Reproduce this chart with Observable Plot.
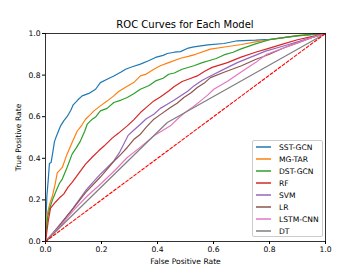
<!DOCTYPE html>
<html><head><meta charset="utf-8">
<script src="https://cdn.jsdelivr.net/npm/d3@7"></script>
<script src="https://cdn.jsdelivr.net/npm/@observablehq/plot@0.6"></script>
<style>
body{margin:0;background:#fff;font-family:"DejaVu Sans",sans-serif;}
#wrap{position:relative;width:361px;height:271px;}
#title{position:absolute;left:45px;width:280px;top:19px;text-align:center;font-size:10px;color:#000;}
#legend{position:absolute;left:252px;top:140px;width:69px;height:95px;border:1px solid #ccc;border-radius:2px;background:rgba(255,255,255,0.85);font-size:7.6px;color:#000;}
.row{position:absolute;left:3px;height:10px;display:flex;align-items:center;}
.sw{display:block;margin-right:8px;}
</style></head><body>
<div id="wrap"><div id="title">ROC Curves for Each Model</div><div id="chart"></div><div id="legend"></div></div>
<script>
const models = ["SST-GCN","MG-TAR","DST-GCN","RF","SVM","LR","LSTM-CNN","DT"];
const colors = ["#1f77b4","#ff7f0e","#2ca02c","#d62728","#9467bd","#8c564b","#e377c2","#7f7f7f"];
const xTicks = [0,0.2,0.4,0.6,0.8,1.0];
const yTicks = [0,0.2,0.4,0.6,0.8,1.0];

const sstFpr = [0,0.002,0.005,0.01,0.014,0.02,0.025,0.032,0.04,0.054,0.065,0.077,0.09,0.099,0.115,0.131,0.155,0.179,0.196,0.22,0.244,0.27,0.286,0.31,0.339,0.37,0.393,0.42,0.435,0.46,0.482,0.51,0.53,0.58,0.637,0.685,0.75,0.8,0.85,0.9,0.95,1];
const sstTpr = [0,0.12,0.22,0.3,0.375,0.38,0.42,0.48,0.51,0.556,0.58,0.6,0.63,0.657,0.68,0.70,0.712,0.732,0.764,0.78,0.796,0.815,0.828,0.84,0.853,0.87,0.885,0.895,0.904,0.91,0.913,0.93,0.936,0.945,0.952,0.965,0.968,0.972,0.98,0.988,0.995,1];
const mgFpr = [0,0.003,0.006,0.015,0.025,0.035,0.042,0.06,0.077,0.095,0.113,0.13,0.143,0.16,0.173,0.196,0.22,0.244,0.26,0.28,0.315,0.339,0.36,0.387,0.41,0.44,0.482,0.51,0.536,0.589,0.64,0.7,0.75,0.8,0.85,0.9,0.95,1];
const mgTpr = [0,0.06,0.13,0.18,0.22,0.28,0.33,0.356,0.42,0.476,0.53,0.56,0.588,0.61,0.628,0.652,0.675,0.70,0.72,0.737,0.764,0.796,0.805,0.828,0.845,0.86,0.881,0.89,0.90,0.925,0.935,0.947,0.96,0.97,0.98,0.99,0.996,1];
const dstFpr = [0,0.003,0.008,0.015,0.025,0.04,0.05,0.06,0.077,0.095,0.11,0.125,0.14,0.149,0.167,0.18,0.196,0.22,0.244,0.27,0.292,0.315,0.339,0.37,0.393,0.42,0.44,0.46,0.488,0.53,0.56,0.583,0.61,0.637,0.67,0.696,0.75,0.8,0.85,0.9,0.95,1];
const dstTpr = [0,0.06,0.12,0.16,0.2,0.25,0.28,0.30,0.356,0.42,0.45,0.484,0.53,0.564,0.588,0.60,0.628,0.64,0.668,0.68,0.692,0.71,0.732,0.75,0.772,0.785,0.804,0.81,0.828,0.845,0.86,0.869,0.88,0.897,0.91,0.925,0.95,0.97,0.98,0.99,0.996,1];
const rfFpr = [0,0.005,0.01,0.018,0.036,0.05,0.065,0.08,0.095,0.12,0.143,0.17,0.19,0.21,0.238,0.26,0.292,0.315,0.339,0.36,0.387,0.41,0.44,0.46,0.488,0.51,0.542,0.57,0.595,0.65,0.696,0.75,0.8,0.85,0.9,0.95,1];
const rfTpr = [0,0.05,0.1,0.16,0.19,0.21,0.228,0.26,0.284,0.33,0.372,0.41,0.436,0.46,0.497,0.52,0.556,0.585,0.62,0.645,0.676,0.695,0.724,0.745,0.769,0.78,0.796,0.82,0.837,0.86,0.885,0.91,0.93,0.95,0.97,0.985,1];
const svmFpr = [0,0.02,0.05,0.075,0.10,0.12,0.143,0.17,0.196,0.22,0.244,0.265,0.28,0.295,0.315,0.339,0.36,0.387,0.41,0.435,0.46,0.482,0.51,0.53,0.56,0.589,0.64,0.685,0.74,0.786,0.85,0.9,0.95,1];
const svmTpr = [0,0.03,0.08,0.12,0.163,0.2,0.244,0.285,0.324,0.355,0.388,0.43,0.47,0.51,0.535,0.564,0.59,0.612,0.64,0.66,0.68,0.70,0.725,0.748,0.775,0.796,0.83,0.86,0.89,0.915,0.94,0.96,0.98,1];
const lrFpr = [0,0.02,0.05,0.075,0.1,0.143,0.196,0.244,0.27,0.292,0.315,0.339,0.36,0.387,0.41,0.446,0.47,0.494,0.52,0.542,0.57,0.589,0.64,0.7,0.75,0.8,0.85,0.9,0.95,1];
const lrTpr = [0,0.03,0.075,0.12,0.16,0.235,0.31,0.385,0.42,0.452,0.49,0.516,0.55,0.588,0.61,0.644,0.665,0.692,0.715,0.74,0.765,0.788,0.815,0.845,0.875,0.9,0.93,0.955,0.98,1];
const lstmFpr = [0,0.02,0.05,0.075,0.1,0.15,0.2,0.25,0.292,0.34,0.387,0.42,0.446,0.48,0.506,0.53,0.554,0.58,0.601,0.65,0.696,0.75,0.79,0.85,0.9,0.95,1];
const lstmTpr = [0,0.03,0.07,0.11,0.15,0.22,0.28,0.345,0.404,0.455,0.508,0.535,0.556,0.6,0.628,0.65,0.676,0.705,0.732,0.77,0.8125,0.86,0.9,0.93,0.955,0.98,1];
const dtFpr = [0,0.435,1];
const dtTpr = [0,0.572,1];
const chanceFpr = [0,1];
const chanceTpr = [0,1];

const fprs = [sstFpr,mgFpr,dstFpr,rfFpr,svmFpr,lrFpr,lstmFpr,dtFpr];
const tprs = [sstTpr,mgTpr,dstTpr,rfTpr,svmTpr,lrTpr,lstmTpr,dtTpr];
const rows = [];
models.forEach((m,i)=>fprs[i].forEach((f,j)=>rows.push({model:m,fpr:f,tpr:tprs[i][j]})));
const chance = chanceFpr.map((f,i)=>({fpr:f,tpr:chanceTpr[i]}));

const chart = Plot.plot({
  width:361, height:271,
  marginTop:33, marginBottom:30, marginLeft:45, marginRight:36,
  style:{fontFamily:"DejaVu Sans, sans-serif", fontSize:"7.6px", color:"#000", background:"#fff"},
  x:{domain:[0,1], ticks:xTicks, tickFormat:d3.format(".1f"), tickSize:3, tickPadding:2, label:"False Positive Rate", labelAnchor:"center", labelOffset:22, labelArrow:"none"},
  y:{domain:[0,1], ticks:yTicks, tickFormat:d3.format(".1f"), tickSize:3, tickPadding:2, label:"True Positive Rate", labelAnchor:"center", labelOffset:30, labelArrow:"none"},
  color:{domain:models, range:colors},
  marks:[
    Plot.line(rows,{x:"fpr",y:"tpr",z:"model",stroke:"model",strokeWidth:1.2}),
    Plot.line(chance,{x:"fpr",y:"tpr",stroke:"#ff0000",strokeWidth:1.1,strokeDasharray:"3,2"}),
    Plot.frame({stroke:"#000",strokeWidth:0.8})
  ]
});
document.getElementById("chart").appendChild(chart);

const leg = document.getElementById("legend");
const NS = "http://www.w3.org/2000/svg";
models.forEach((m,i)=>{
  const r=document.createElement("div"); r.className="row"; r.style.top=(1+i*12.05)+"px";
  const s=document.createElementNS(NS,"svg"); s.setAttribute("class","sw"); s.setAttribute("width","15"); s.setAttribute("height","4");
  const l=document.createElementNS(NS,"line"); l.setAttribute("x1","0"); l.setAttribute("x2","15"); l.setAttribute("y1","2"); l.setAttribute("y2","2");
  l.setAttribute("stroke",colors[i]); l.setAttribute("stroke-width","1.5"); s.appendChild(l);
  const t=document.createElement("span"); t.textContent=m;
  r.appendChild(s); r.appendChild(t); leg.appendChild(r);
});
</script></body></html>
